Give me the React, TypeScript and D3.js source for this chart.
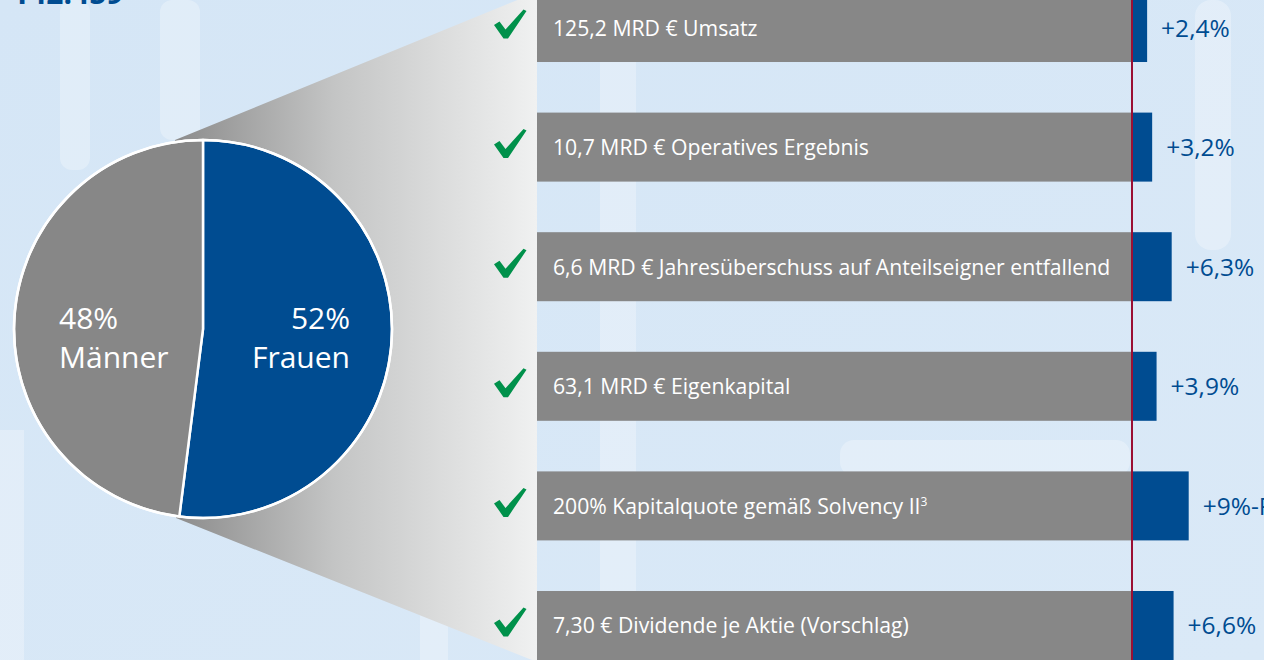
import React from "react";
import * as d3 from "d3";

const headcountLabel = "142.459";
const pieCategories = ["Frauen", "Männer"];
const pieValues = [52, 48];
const pieValueLabels = ["52%", "48%"];

const kpiLabels = [
  "125,2 MRD € Umsatz",
  "10,7 MRD € Operatives Ergebnis",
  "6,6 MRD € Jahresüberschuss auf Anteilseigner entfallend",
  "63,1 MRD € Eigenkapital",
  "200% Kapitalquote gemäß Solvency II",
  "7,30 € Dividende je Aktie (Vorschlag)",
];
const kpiSuperscripts = ["", "", "", "", "3", ""];
const growthValues = [2.4, 3.2, 6.3, 3.9, 9, 6.6];
const growthLabels = ["+2,4%", "+3,2%", "+6,3%", "+3,9%", "+9%-Pkt.", "+6,6%"];

const W = 1264;
const H = 660;
const BLUE = "#004c91";
const GREY = "#878787";
const FONT = "'Open Sans', 'Noto Sans', sans-serif";

export default function App() {
  const cx = 203;
  const cy = 329;
  const r = 189;

  const pie = d3
    .pie<number>()
    .sort(null)
    .value((d) => d)(pieValues);
  const arc = d3.arc<d3.PieArcDatum<number>>().innerRadius(0).outerRadius(r);

  const y = d3
    .scaleBand<number>()
    .domain(d3.range(kpiLabels.length))
    .range([-7, 660])
    .paddingInner(0.423)
    .paddingOuter(0);

  const barLeft = 537;
  const baseX = 1132;
  const x = d3.scaleLinear().domain([0, 10]).range([baseX, baseX + 63]);

  const checkPts: [number, number][] = [
    [0, 15.5], [5.5, 12], [11.5, 20], [29.5, 0], [32.5, 1.5], [14, 29], [9.5, 29],
  ];
  const checkPath = d3.line()(checkPts) + "Z";

  const funnel: [number, number][] = [
    [175, 140], [537, -8], [537, 662], [176, 518], [cx, cy],
  ];

  return (
    <div style={{ position: "fixed", left: 0, top: 0, width: W, height: H }}>
      <svg width={W} height={H} style={{ display: "block", fontFamily: FONT }}>
        <defs>
          <linearGradient id="bg" x1="0" y1="0" x2="1" y2="1">
            <stop offset="0%" stopColor="#d5e6f6" />
            <stop offset="100%" stopColor="#dae9f7" />
          </linearGradient>
          <linearGradient id="funnel" gradientUnits="userSpaceOnUse" x1="170" y1="0" x2="537" y2="0">
            <stop offset="0%" stopColor="#8a8a8a" />
            <stop offset="45%" stopColor="#c4c5c5" />
            <stop offset="100%" stopColor="#f0f1f1" />
          </linearGradient>
        </defs>
        <rect width={W} height={H} fill="url(#bg)" />
        {/* faint background structures */}
        <g fill="#ffffff" opacity={0.28}>
          <rect x={60} y={0} width={30} height={170} rx={12} />
          <rect x={160} y={0} width={40} height={140} rx={12} />
          <rect x={600} y={60} width={36} height={600} />
          <rect x={420} y={230} width={28} height={430} />
          <rect x={1195} y={0} width={36} height={250} rx={16} />
          <rect x={0} y={430} width={24} height={230} />
          <rect x={840} y={440} width={290} height={36} rx={14} />
        </g>
        <text x={12} y={4} fill={BLUE} fontSize={30} fontWeight={700}>
          {headcountLabel}
        </text>

        <path d={d3.line()(funnel) + "Z"} fill="url(#funnel)" />

        <g transform={`translate(${cx},${cy})`}>
          {pie.map((p, i) => (
            <path
              key={i}
              d={arc(p) || ""}
              fill={i === 0 ? BLUE : GREY}
              stroke="#ffffff"
              strokeWidth={2.5}
              strokeLinejoin="round"
            />
          ))}
          <circle r={r} fill="none" stroke="#fff" strokeWidth={2.5} />
        </g>
        <text x={350} y={329} textAnchor="end" fill="#fff" fontSize={30}>
          {pieValueLabels[0]}
        </text>
        <text x={350} y={368} textAnchor="end" fill="#fff" fontSize={30}>
          {pieCategories[0]}
        </text>
        <text x={59} y={329} fill="#fff" fontSize={30}>
          {pieValueLabels[1]}
        </text>
        <text x={59} y={368} fill="#fff" fontSize={30}>
          {pieCategories[1]}
        </text>

        {kpiLabels.map((lab, i) => {
          const top = y(i) as number;
          const bh = y.bandwidth();
          const mid = top + bh / 2;
          return (
            <g key={i}>
              <rect x={barLeft} y={top} width={baseX - barLeft} height={bh} fill={GREY} />
              <rect x={baseX} y={top} width={x(growthValues[i]) - baseX} height={bh} fill={BLUE} />
              <text x={553} y={mid + 8} fill="#fff" fontSize={21.2}>
                {lab}
                {kpiSuperscripts[i] && (
                  <tspan fontSize={12} dy={-8}>
                    {kpiSuperscripts[i]}
                  </tspan>
                )}
              </text>
              <text x={x(growthValues[i]) + 14} y={mid + 9} fill={BLUE} fontSize={24.5}>
                {growthLabels[i]}
              </text>
              <path d={checkPath} transform={`translate(494,${mid - 18})`} fill="#00914b" />
            </g>
          );
        })}
        <line x1={baseX} x2={baseX} y1={0} y2={H} stroke="#9b0f33" strokeWidth={2} />
      </svg>
    </div>
  );
}
